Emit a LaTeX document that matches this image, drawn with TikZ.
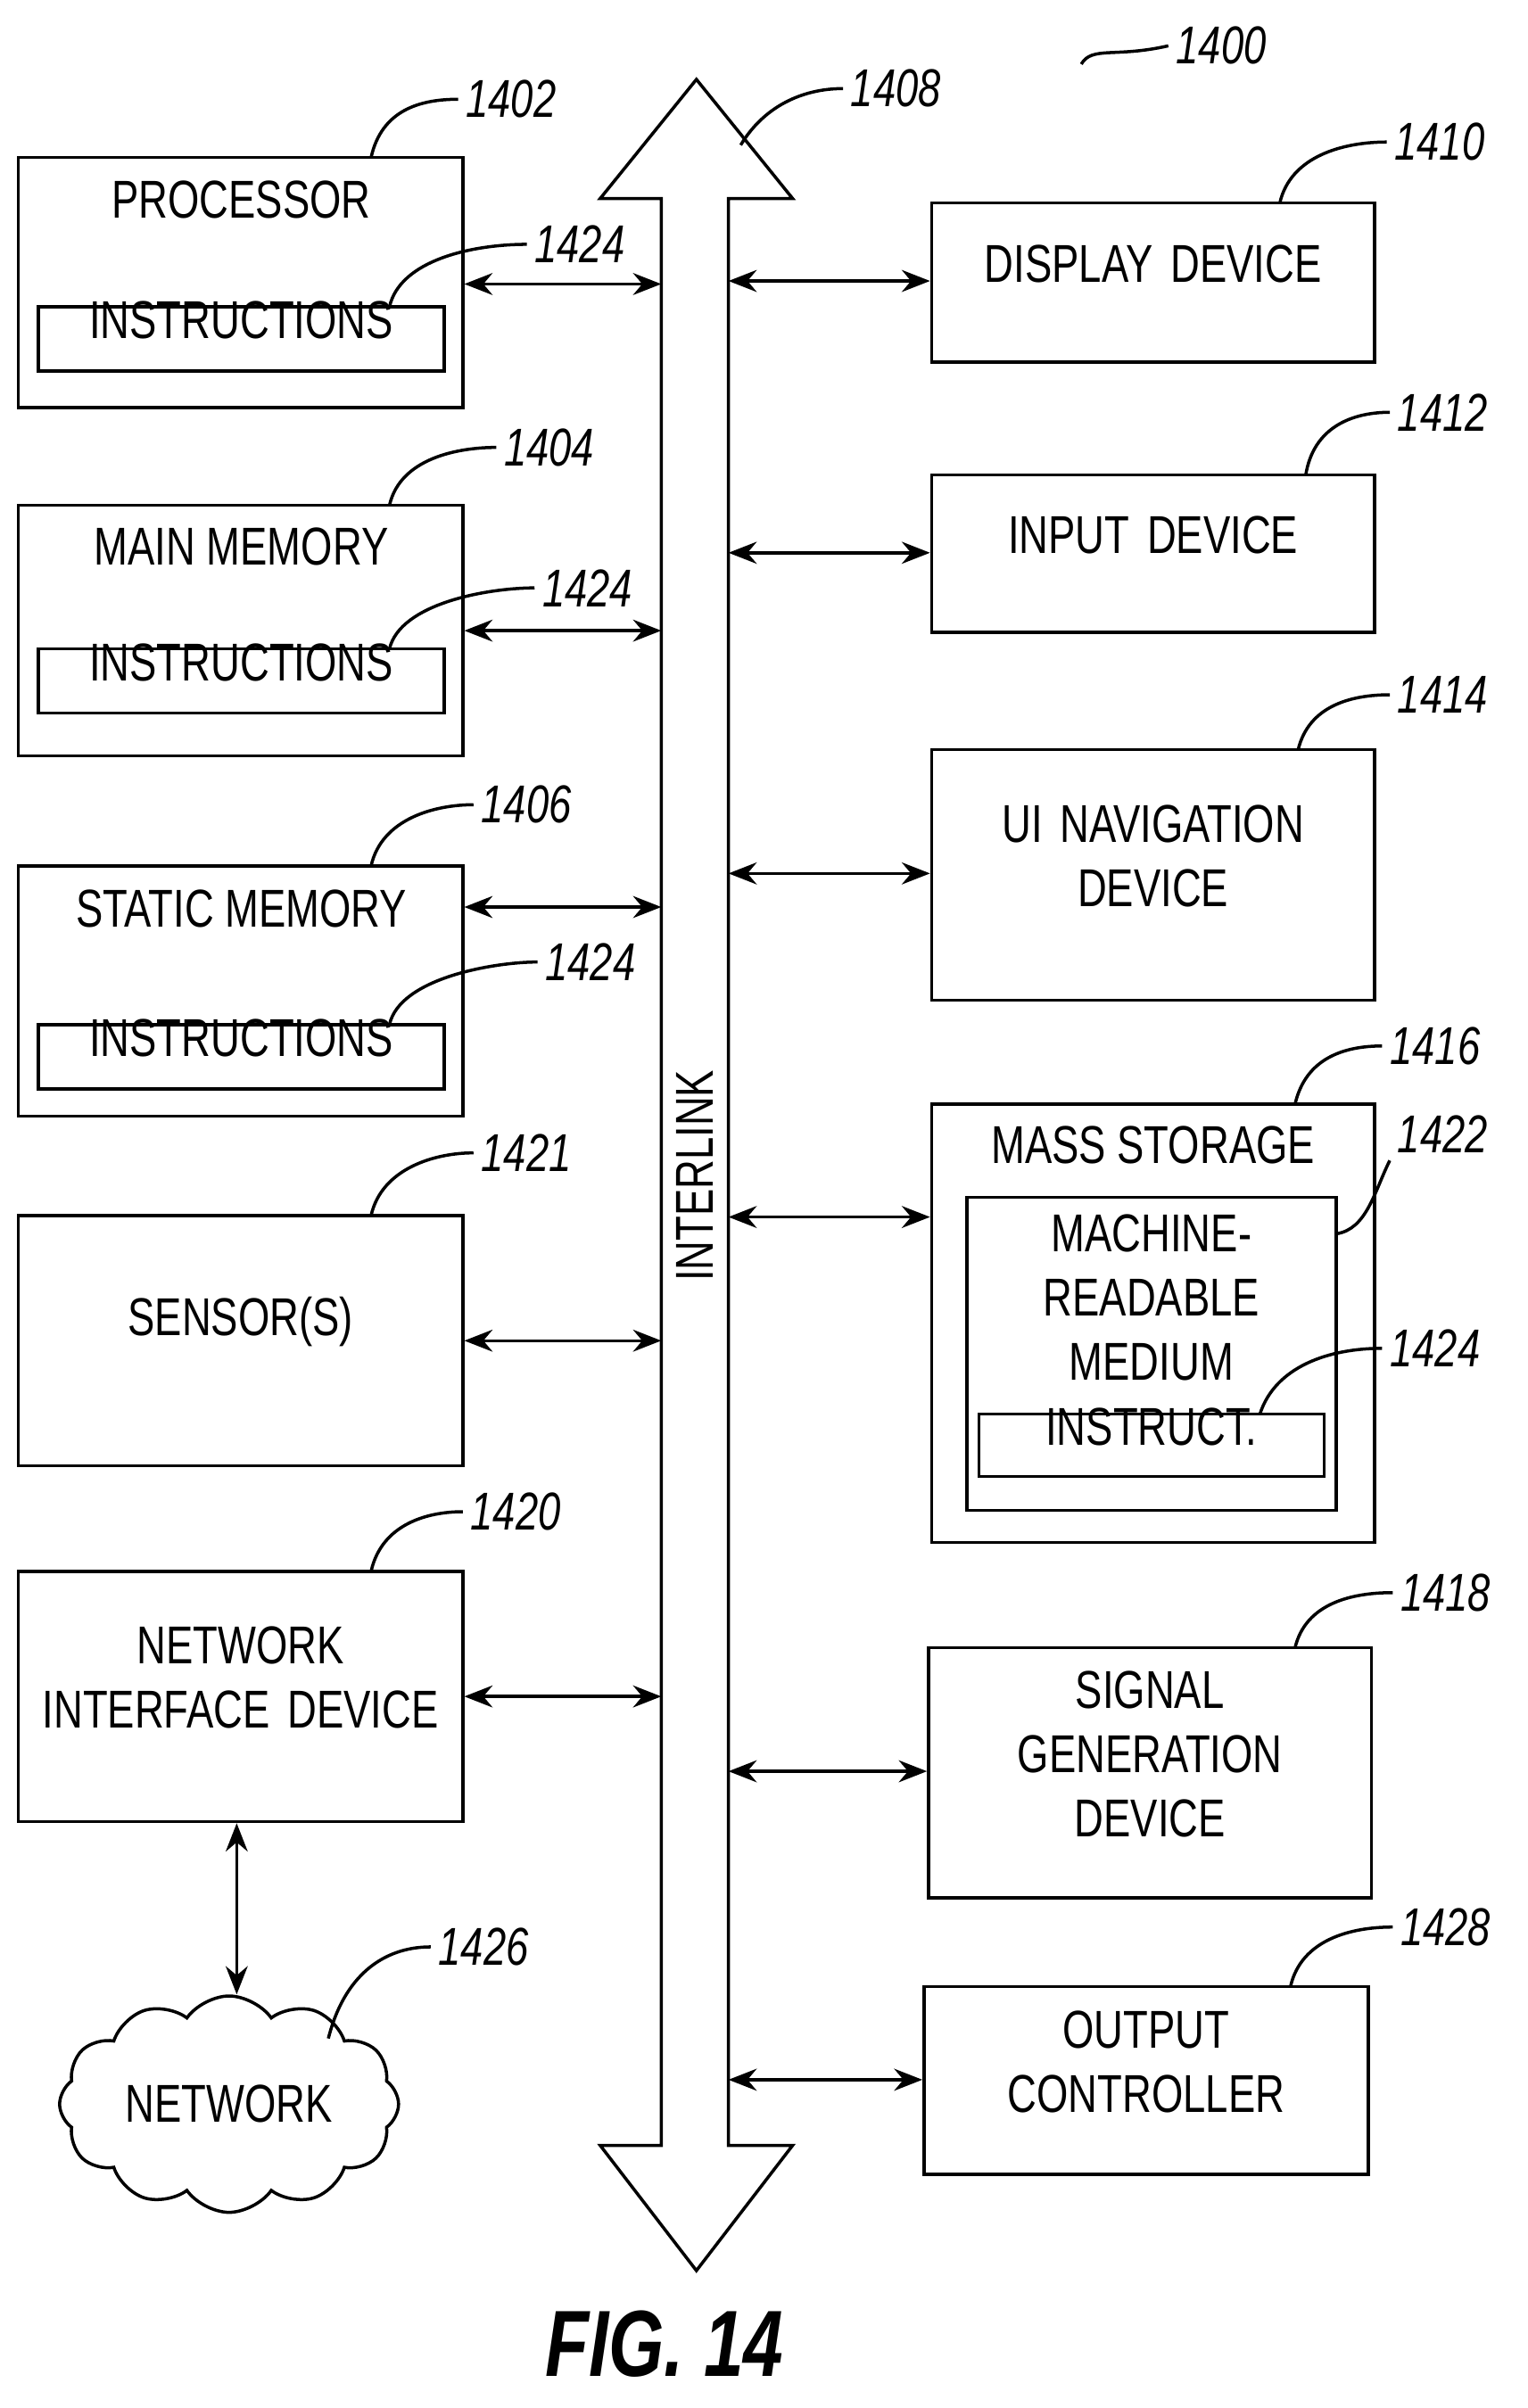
\documentclass[tikz,border=0pt]{standalone}
\usepackage{fontspec}
\setmainfont{Liberation Sans}[FakeStretch=0.76]
\usetikzlibrary{arrows.meta,fit,shapes.symbols}

\begin{document}
\begin{tikzpicture}[x=0.01712cm,y=-0.01712cm,line width=1pt,
  box/.style={draw,inner sep=0pt},
  lbl/.style={font=\fontsize{17}{20.5}\selectfont,align=center},
  num/.style={font=\fontsize{17}{20}\selectfont\itshape,anchor=west,inner sep=2pt},
  conn/.style={{Stealth[length=9pt,width=7pt]}-{Stealth[length=9pt,width=7pt]}}]
\useasboundingbox (0,0) rectangle (1000,1577);

% left column
\node[box,fit={(12,103) (303,267)}] (proc) {};
\node[lbl] at (158,131) {PROCESSOR};
\node[box,fit={(25,201) (291,243)},lbl] (ins1) {INSTRUCTIONS};
\node[box,fit={(12,331) (303,495)}] (mmem) {};
\node[lbl] at (158,358) {MAIN MEMORY};
\node[box,fit={(25,425) (291,467)},lbl] (ins2) {INSTRUCTIONS};
\node[box,fit={(12,567) (303,731)}] (smem) {};
\node[lbl] at (158,595) {STATIC MEMORY};
\node[box,fit={(25,671) (291,713)},lbl] (ins3) {INSTRUCTIONS};
\node[box,fit={(12,796) (303,960)},lbl] (sens) {SENSOR(S)};
\node[box,fit={(12,1029) (303,1193)},lbl] (nid) {NETWORK\\INTERFACE DEVICE};
\node[draw,cloud,cloud puffs=12,cloud puff arc=110,aspect=1.8,
  minimum width=3.8cm,minimum height=2.2cm,lbl] (net) at (150,1378) {NETWORK};

% right column
\node[box,fit={(610,133) (900,237)},lbl] (disp) {DISPLAY DEVICE};
\node[box,fit={(610,311) (900,414)},lbl] (inp) {INPUT DEVICE};
\node[box,fit={(610,491) (900,655)},lbl] (uinav) {UI NAVIGATION\\DEVICE};
\node[box,fit={(610,723) (900,1010)}] (mass) {};
\node[lbl] at (755,750) {MASS STORAGE};
\node[box,fit={(633,784) (875,989)}] (mrm) {};
\node[lbl] at (754,850) {MACHINE-\\READABLE\\MEDIUM};
\node[box,fit={(641,926) (867,967)},lbl] (ins4) {INSTRUCT.};
\node[box,fit={(608,1079) (898,1243)},lbl] (sig) {SIGNAL\\GENERATION\\DEVICE};
\node[box,fit={(605,1301) (896,1424)},lbl] (outc) {OUTPUT\\CONTROLLER};

% interlink bus
\draw (433,1405) -- (433,130) -- (393,130) -- (456,52) -- (519,130) -- (477,130)
  -- (477,1405) -- (519,1405) -- (456,1487) -- (393,1405) -- cycle;
\node[lbl,rotate=90] (bus) at (455,770) {INTERLINK};
\coordinate (busL) at (433,0);
\coordinate (busR) at (477,0);

% connections
\foreach \n/\y in {proc/186,mmem/413,smem/594,sens/878,nid/1111}
  \draw[conn] (\n.east |- 0,\y) -- (busL |- 0,\y);
\foreach \n/\y in {disp/184,inp/362,uinav/572,mass/797,sig/1160,outc/1362}
  \draw[conn] (busR |- 0,\y) -- (\n.west |- 0,\y);
\draw[conn] (nid.south -| 155,0) -- (net.north -| 155,0);

% reference numerals
\draw (708,42) .. controls (715,30) and (730,38) .. (765,30) node[num] {1400};
\draw (243,103) .. controls (250,72) and (275,65) .. (300,65) node[num] {1402};
\draw (255,201) .. controls (262,170) and (310,160) .. (345,160) node[num] {1424};
\draw (255,331) .. controls (262,300) and (300,293) .. (325,293) node[num] {1404};
\draw (255,425) .. controls (262,395) and (320,385) .. (350,385) node[num] {1424};
\draw (243,567) .. controls (250,536) and (285,527) .. (310,527) node[num] {1406};
\draw (255,671) .. controls (262,640) and (325,630) .. (352,630) node[num] {1424};
\draw (243,796) .. controls (250,765) and (285,755) .. (310,755) node[num] {1421};
\draw (243,1029) .. controls (250,998) and (280,990) .. (303,990) node[num] {1420};
\draw (215,1335) .. controls (225,1295) and (250,1275) .. (282,1275) node[num] {1426};
\draw (485,95) .. controls (500,70) and (525,58) .. (552,58) node[num] {1408};
\draw (838,133) .. controls (845,102) and (880,93) .. (908,93) node[num] {1410};
\draw (855,311) .. controls (860,280) and (885,270) .. (910,270) node[num] {1412};
\draw (850,491) .. controls (857,462) and (885,455) .. (910,455) node[num] {1414};
\draw (848,723) .. controls (855,693) and (880,685) .. (905,685) node[num] {1416};
\draw (875,808) .. controls (895,805) and (900,780) .. (910,760) node[num,anchor=south west] {1422};
\draw (825,926) .. controls (835,895) and (870,883) .. (905,883) node[num] {1424};
\draw (848,1079) .. controls (855,1050) and (885,1043) .. (912,1043) node[num] {1418};
\draw (845,1301) .. controls (852,1270) and (885,1262) .. (912,1262) node[num] {1428};

\node[font=\fontsize{30}{34}\selectfont\bfseries\itshape] (fig) at (435,1535) {FIG. 14};
\end{tikzpicture}
\end{document}
